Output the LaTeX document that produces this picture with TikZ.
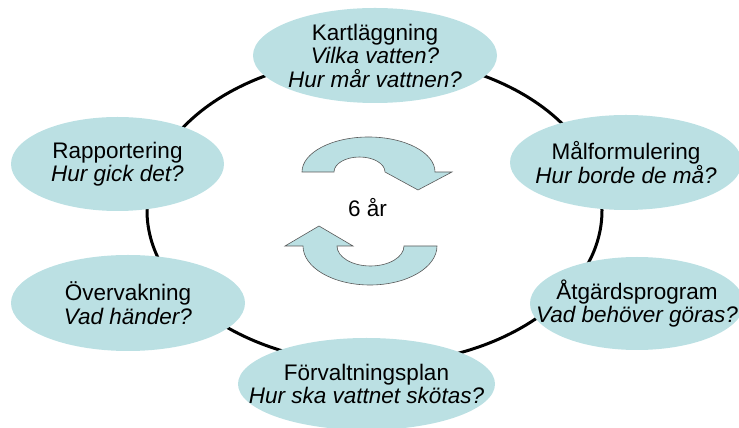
\documentclass[tikz,border=0pt]{standalone}
\usepackage{fontspec}
\setmainfont{Liberation Sans}
\usetikzlibrary{shapes.geometric}
\definecolor{bubble}{RGB}{187,224,227}
\begin{document}
\begin{tikzpicture}[x=1pt,y=1pt,
  bub/.style={ellipse,fill=bubble,inner sep=0pt},
  btext/.style={align=center,inner sep=0pt,font=\fontsize{22.5}{23.5}\selectfont},
  ring/.style={line width=3pt,black},
  circarrow/.style={fill=bubble,draw=black!65,line width=0.6pt,line join=miter}]
\useasboundingbox (0,0) rectangle (739,428);
% ring behind the bubbles
\draw[ring] (374.5,217.5) ellipse [x radius=227.5, y radius=153.5];
% bubbles
\node[bub,minimum width=244pt,minimum height=95pt] (kart) at (375,372.5) {};
\node[btext] (kartt) at (kart.center)
  {Kartläggning\\\textit{Vilka vatten?}\\\textit{Hur mår vattnen?}};
\node[bub,minimum width=232pt,minimum height=95pt] (mal) at (626,265.5) {};
\node[btext] (malt) at (mal.center)
  {Målformulering\\\textit{Hur borde de må?}};
\node[bub,minimum width=214pt,minimum height=93pt] (atg) at (637,124.5) {};
\node[btext] (atgt) at (atg.center)
  {Åtgärdsprogram\\\textit{Vad behöver göras?}};
\node[bub,minimum width=257pt,minimum height=92pt] (forv) at (366.5,44) {};
\node[btext] (forvt) at (forv.center)
  {Förvaltningsplan\\\textit{Hur ska vattnet skötas?}};
\node[bub,minimum width=234pt,minimum height=96pt] (overv) at (128,125) {};
\node[btext] (overvt) at (overv.center)
  {Övervakning\\\textit{Vad händer?}};
\node[bub,minimum width=213pt,minimum height=94pt] (rapp) at (117.5,264) {};
\node[btext] (rappt) at (rapp.center)
  {Rapportering\\\textit{Hur gick det?}};
% circular arrows
\draw[circarrow] (302,256) arc[start angle=180,end angle=0,x radius=66.5,y radius=35]
  -- (452,256) -- (418,238) -- (385,256)
  arc[start angle=0,end angle=180,x radius=25.5,y radius=15] -- cycle;
\draw[circarrow] (303,182) arc[start angle=180,end angle=360,x radius=67,y radius=39]
  -- (404,182)
  arc[start angle=360,end angle=180,x radius=33.5,y radius=20]
  -- (353,182) -- (319,202) -- (285,182) -- cycle;
\node[btext] (yr) at (367.5,220) {6 år};
\end{tikzpicture}
\end{document}
